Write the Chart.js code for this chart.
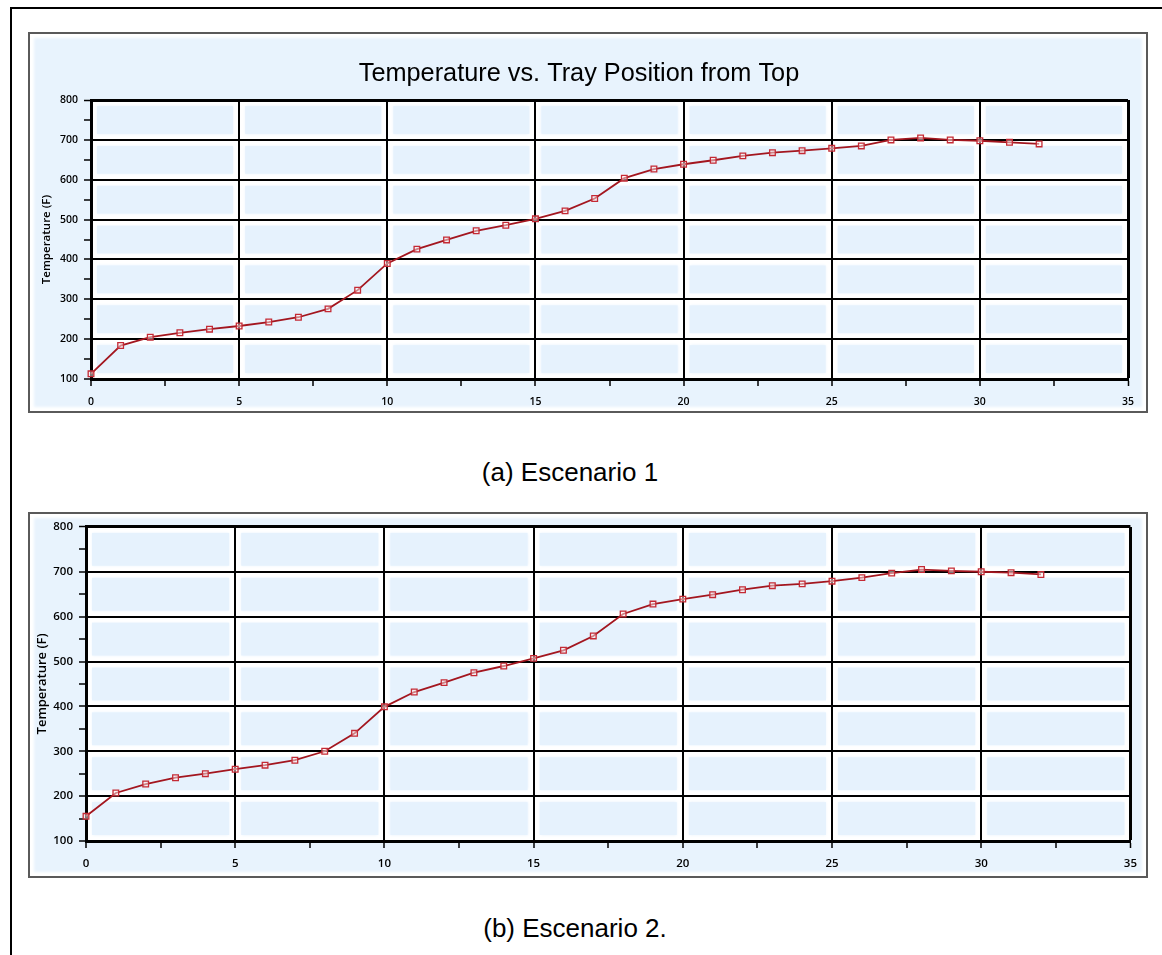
<!DOCTYPE html>
<html><head><meta charset="utf-8">
<script src="https://cdn.jsdelivr.net/npm/chart.js@4.4.0/dist/chart.umd.min.js"></script>
<style>
html,body{margin:0;padding:0;background:#fff;width:1162px;height:955px;overflow:hidden;position:relative;font-family:"Liberation Sans",Arial,sans-serif;}
#frame{position:absolute;left:10px;top:7px;width:1170px;height:970px;border:2px solid #000;box-sizing:border-box;}
.panel{position:absolute;border:2px solid #5a5a5a;background:#e8f3fd;box-shadow:inset 0 0 3px 4px #fff;box-sizing:border-box;}
#p1{left:28px;top:32px;width:1120px;height:381px;}
#p2{left:28px;top:512px;width:1120px;height:366px;}
canvas{position:absolute;}
#c1{left:30px;top:34px;}
#c2{left:30px;top:514px;}
.cap{position:absolute;left:0;text-align:center;font-size:26px;line-height:30px;color:#000;}
#capA{top:457px;width:1140px;}
#capB{top:913px;width:1150px;}
</style></head>
<body>
<div id="frame"></div>
<div class="panel" id="p1"></div>
<div class="panel" id="p2"></div>
<canvas id="c1" width="1116" height="377"></canvas>
<canvas id="c2" width="1116" height="362"></canvas>
<div class="cap" id="capA">(a) Escenario 1</div>
<div class="cap" id="capB">(b) Escenario 2.</div>
<script>
const trays = [0,1,2,3,4,5,6,7,8,9,10,11,12,13,14,15,16,17,18,19,20,21,22,23,24,25,26,27,28,29,30,31,32];
const tempScenario1 = [113,184,205,216,225,233,243,255,276,323,390,426,449,472,486,502,522,553,604,627,639,649,660,668,673,679,685,700,705,700,698,694,690];
const tempScenario2 = [155,207,227,241,250,260,269,280,300,340,399,432,453,475,490,507,525,557,606,628,639,649,660,669,673,679,687,697,705,702,700,698,694];
const xTickLabels = [0,5,10,15,20,25,30,35];
const yTickLabels = [100,200,300,400,500,600,700,800];
const chartTitle = 'Temperature vs. Tray Position from Top';
const yAxisTitle = 'Temperature (F)';

const cellPlugin = {
  id: 'cells',
  beforeDraw(chart) {
    const {ctx, chartArea: a, scales: {x, y}} = chart;
    ctx.save();
    ctx.fillStyle = '#ffffff';
    ctx.fillRect(a.left, a.top, a.right - a.left, a.bottom - a.top);
    const xs = xTickLabels.map(v => x.getPixelForValue(v));
    const ys = yTickLabels.map(v => y.getPixelForValue(v));
    ctx.fillStyle = '#e6f2fd';
    ctx.shadowColor = '#e6f2fd';
    ctx.shadowBlur = 3;
    for (let i = 0; i < xs.length - 1; i++) {
      for (let j = 0; j < ys.length - 1; j++) {
        const x0 = xs[i], x1 = xs[i + 1], y0 = ys[j + 1], y1 = ys[j];
        ctx.fillRect(x0 + 6, y0 + 6, x1 - x0 - 12, y1 - y0 - 12);
      }
    }
    ctx.restore();
  }
};

function makeChart(id, values, cfg) {
  const isMajX = v => xTickLabels.includes(v);
  const isMajY = v => yTickLabels.includes(v);
  return new Chart(document.getElementById(id), {
    type: 'line',
    data: {
      datasets: [{
        data: trays.map((t, i) => ({x: t, y: values[i]})),
        borderColor: '#a3161f',
        borderWidth: 1.8,
        tension: 0,
        pointStyle: 'rect',
        pointRadius: 4,
        pointBorderWidth: 1.3,
        pointBorderColor: '#c42a35',
        pointBackgroundColor: 'rgba(255,235,235,0.5)',
        clip: false
      }]
    },
    options: {
      responsive: false,
      animation: false,
      layout: {padding: cfg.padding},
      plugins: {
        legend: {display: false},
        tooltip: {enabled: false},
        title: cfg.title ? {
          display: true,
          text: chartTitle,
          color: '#000',
          font: {family: '"Liberation Sans", Arial, sans-serif', size: 25.3, weight: 'normal', lineHeight: 1.15},
          padding: {top: 25.5, bottom: 11.5}
        } : {display: false}
      },
      scales: {
        x: {
          type: 'linear',
          min: xTickLabels[0],
          max: xTickLabels[xTickLabels.length - 1],
          afterFit(s) { s.height = cfg.xHeight; },
          ticks: {
            stepSize: 2.5,
            autoSkip: false,
            maxRotation: 0,
            padding: cfg.xPad,
            color: '#000',
            font: {family: '"Open Sans", sans-serif', size: cfg.fs, weight: '600'},
            callback: v => isMajX(v) ? String(v) : ''
          },
          grid: {
            color: c => (c.tick && isMajX(c.tick.value)) ? '#000' : 'rgba(0,0,0,0)',
            lineWidth: c => (c.tick && c.tick.value === 35) ? 3 : 2,
            tickColor: '#000',
            tickWidth: 1.5,
            tickLength: 7
          },
          border: {display: true, color: '#000', width: 3}
        },
        y: {
          type: 'linear',
          min: yTickLabels[0],
          max: yTickLabels[yTickLabels.length - 1],
          afterFit(s) { s.width = cfg.yWidth; },
          ticks: {
            stepSize: 50,
            autoSkip: false,
            padding: 6,
            color: '#000',
            font: {family: '"Open Sans", sans-serif', size: cfg.fs, weight: '600'},
            callback: v => isMajY(v) ? String(v) : ''
          },
          grid: {
            color: c => (c.tick && isMajY(c.tick.value)) ? '#000' : 'rgba(0,0,0,0)',
            lineWidth: c => (c.tick && c.tick.value === 800) ? 3 : 2,
            tickColor: '#000',
            tickWidth: 1.5,
            tickLength: 7
          },
          border: {display: true, color: '#000', width: 3},
          title: {
            display: true,
            text: yAxisTitle,
            color: '#000',
            font: {family: '"Open Sans", sans-serif', size: cfg.tfs, weight: '600', lineHeight: 1.2},
            padding: {top: cfg.tPad, bottom: 0}
          }
        }
      }
    },
    plugins: [cellPlugin]
  });
}

makeChart('c1', tempScenario1, {title: true, padding: {left: 0, right: 18, top: 0, bottom: 0}, xHeight: 32, yWidth: 61, xPad: 10, fs: 10.5, tfs: 11.5, tPad: 10});
makeChart('c2', tempScenario2, {title: false, padding: {left: 0, right: 15, top: 10, bottom: 0}, xHeight: 35, yWidth: 56, xPad: 9, fs: 11.5, tfs: 13, tPad: 4});
</script>
</body></html>
